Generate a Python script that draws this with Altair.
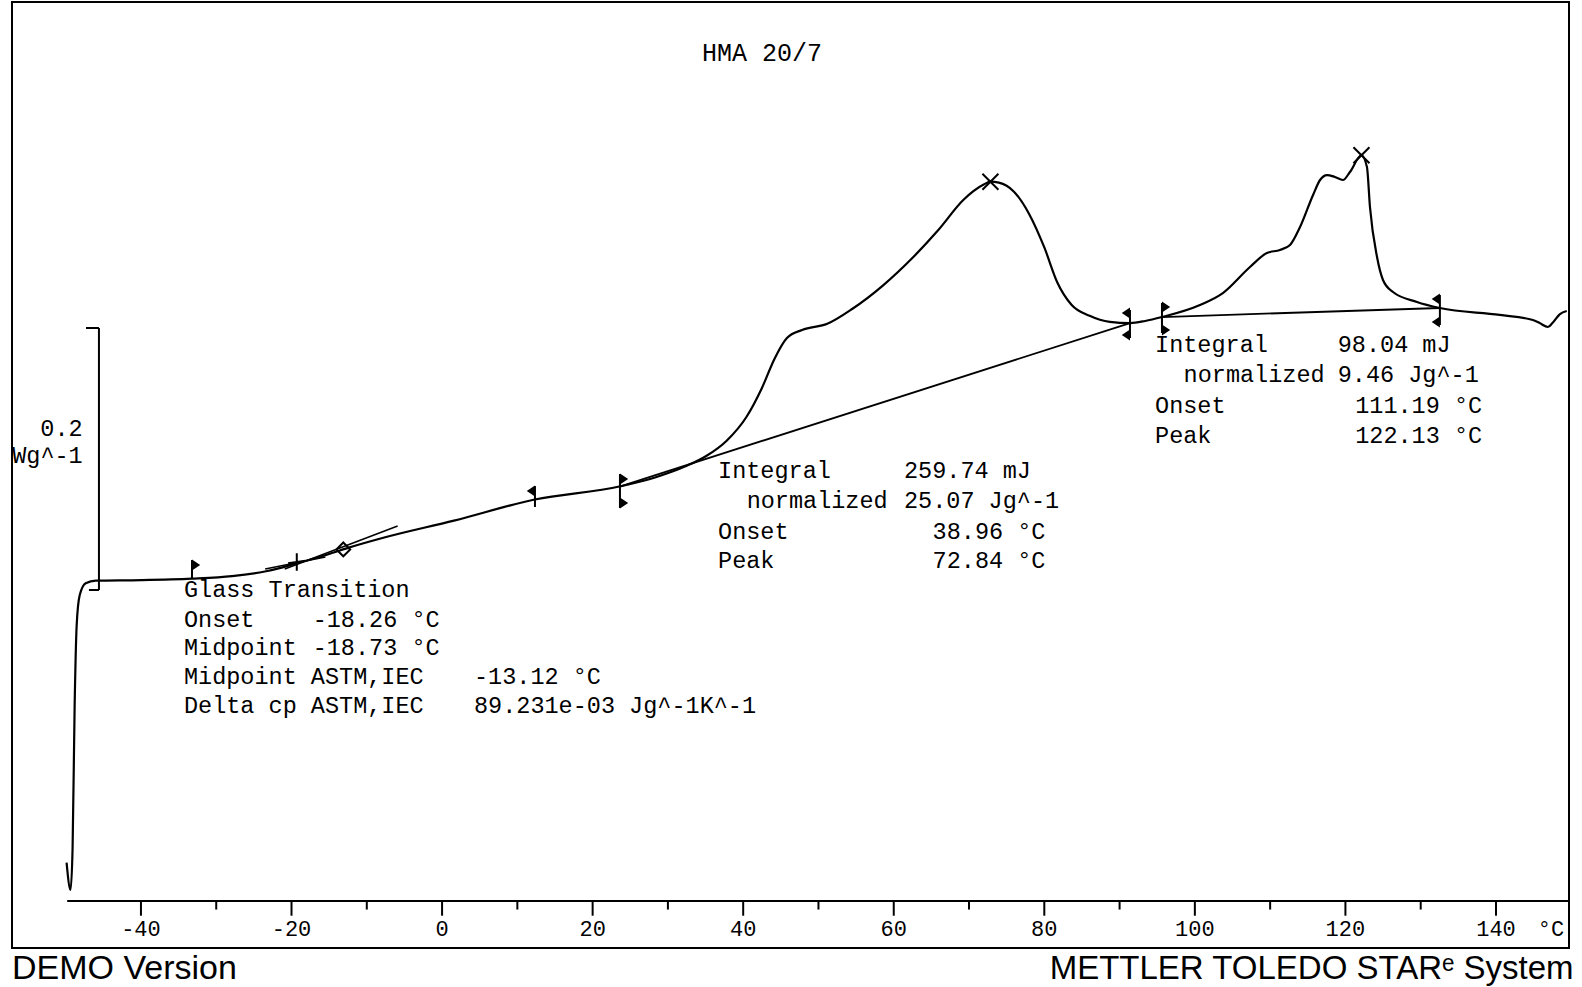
import altair as alt
import pandas as pd

# ---------------- data (temperature in °C, heat flow in W/g relative to the plateau) -------------
curve_T = [-49.88, -49.35, -49.08, -48.81, -48.54, -48.14, -47.34, -46.00, -39.97, -33.26,
           -27.90, -23.21, -19.19, -15.84, -12.49, -7.80, 1.58, 12.31, 23.70, 28.39,
           32.41, 35.09, 37.77, 40.45, 42.46, 44.20, 45.81, 47.82, 51.17, 54.52,
           58.55, 62.57, 65.92, 69.27, 71.95, 72.84, 73.96, 75.97, 77.98, 79.99,
           81.73, 83.61, 86.02, 88.70, 91.38, 93.40, 95.63, 100.68, 103.72, 107.32,
           109.57, 111.30, 112.64, 113.97, 115.70, 116.63, 117.56, 118.60, 119.67, 120.60,
           122.13, 122.86, 123.26, 124.20, 124.99, 126.32, 129.50, 132.55, 140.50, 144.90,
           145.80, 146.90, 147.50, 148.50, 149.40]
curve_W = [-0.2150, -0.2358, -0.2035, -0.0957, -0.0340, -0.0109, -0.0017, 0.0003, 0.0007, 0.0018,
           0.0037, 0.0076, 0.0137, 0.0191, 0.0253, 0.0330, 0.0461, 0.0622, 0.0723, 0.0792,
           0.0877, 0.0954, 0.1069, 0.1254, 0.1470, 0.1701, 0.1855, 0.1916, 0.1963, 0.2078,
           0.2255, 0.2471, 0.2679, 0.2910, 0.3026, 0.3048, 0.3041, 0.2972, 0.2802, 0.2548,
           0.2279, 0.2109, 0.2024, 0.1978, 0.1969, 0.1985, 0.2015, 0.2107, 0.2198, 0.2397,
           0.2504, 0.2527, 0.2565, 0.2702, 0.2947, 0.3061, 0.3099, 0.3084, 0.3061, 0.3122,
           0.3250, 0.3160, 0.2855, 0.2473, 0.2298, 0.2206, 0.2130, 0.2084, 0.2031, 0.1992,
           0.1969, 0.1939, 0.1969, 0.2038, 0.2061]

# integration baselines: (T1, W1, T2, W2)
baseline_T1 = [23.70, 95.63]
baseline_W1 = [0.0723, 0.2015]
baseline_T2 = [91.38, 132.55]
baseline_W2 = [0.1969, 0.2084]

# glass transition tangents
tangent_T1 = [-23.5, -20.9]
tangent_W1 = [0.0092, 0.0092]
tangent_T2 = [-15.5, -5.9]
tangent_W2 = [0.0183, 0.0420]

# evaluation limit flags
flag_T = [-33.22, 12.34, 23.63, 91.38, 95.63, 132.55]
flag_W_low = [0.0023, 0.0565, 0.0557, 0.1855, 0.1893, 0.1954]
flag_W_high = [0.0160, 0.0725, 0.0817, 0.2069, 0.2122, 0.2183]
tri_T = [-33.22, 12.34, 23.63, 23.63, 91.38, 91.38, 95.63, 95.63, 132.55, 132.55]
tri_W = [0.0122, 0.0687, 0.0779, 0.0595, 0.2046, 0.1878, 0.2092, 0.1916, 0.2153, 0.1977]
tri_dir = ["right", "left", "right", "right", "left", "left", "right", "right", "left", "left"]

# result markers
peak_T = [72.84, 122.13]
peak_W = [0.3048, 0.3250]
onset_T = [-19.3]
onset_W = [0.0145]
mid_T = [-13.12]
mid_W = [0.0241]

# scale bar 0.2 W/g
bar_T = -45.58
bar_W = [-0.00687, 0.19313]

# temperature axis
tick_vals = [-40, -30, -20, -10, 0, 10, 20, 30, 40, 50, 60, 70, 80, 90, 100, 110, 120, 130, 140]
tick_labels = ["-40", "-20", "0", "20", "40", "60", "80", "100", "120", "140"]
axis_W = -0.2443

# annotation texts
gt_labels = ["Glass Transition", "Onset", "Midpoint", "Midpoint ASTM,IEC", "Delta cp ASTM,IEC"]
gt_values = ["-18.26 °C", "-18.73 °C", "-13.12 °C", "89.231e-03 Jg^-1K^-1"]
p1_labels = ["Integral", "normalized", "Onset", "Peak"]
p1_values = ["259.74 mJ", "25.07 Jg^-1", "38.96 °C", "72.84 °C"]
p2_labels = ["Integral", "normalized", "Onset", "Peak"]
p2_values = ["98.04 mJ", "9.46 Jg^-1", "111.19 °C", "122.13 °C"]

# ---------------- scales -------------
XS = alt.Scale(domain=[-57.13, 149.70], nice=False, zero=False)
YS = alt.Scale(domain=[-0.28015, 0.44198], nice=False, zero=False)


def ex(f):
    return alt.X(f, type="quantitative", scale=XS, axis=None)


def ey(f):
    return alt.Y(f, type="quantitative", scale=YS, axis=None)


MONO = "Liberation Mono"
SANS = "Liberation Sans"

layers = []

# curve
curve_df = pd.DataFrame({"T": curve_T, "W": curve_W, "i": range(len(curve_T))})
layers.append(
    alt.Chart(curve_df).mark_line(color="black", strokeWidth=2.2, interpolate="monotone")
    .encode(x=ex("T"), y=ey("W"), order="i:Q")
)


def segs(t1, w1, t2, w2, sw):
    df = pd.DataFrame({"t1": t1, "w1": w1, "t2": t2, "w2": w2})
    return alt.Chart(df).mark_rule(color="black", strokeWidth=sw).encode(
        x=ex("t1"), y=ey("w1"), x2=alt.X2("t2"), y2=alt.Y2("w2"))


layers.append(segs(baseline_T1, baseline_W1, baseline_T2, baseline_W2, 1.8))
layers.append(segs(tangent_T1, tangent_W1, tangent_T2, tangent_W2, 1.6))
layers.append(segs(flag_T, flag_W_low, flag_T, flag_W_high, 2))
# scale bar bracket
layers.append(segs([bar_T, -47.30, -46.91], [bar_W[0], bar_W[1], bar_W[0]],
                   [bar_T, bar_T, bar_T], [bar_W[1], bar_W[1], bar_W[0]], 2))
# axis line
layers.append(segs([-49.8], [axis_W], [149.7], [axis_W], 2))
major = [t for t in tick_vals if t % 20 == 0]
minor = [t for t in tick_vals if t % 20 != 0]
layers.append(segs(major, [axis_W] * len(major), major, [-0.2555] * len(major), 2))
layers.append(segs(minor, [axis_W] * len(minor), minor, [-0.2508] * len(minor), 2))

# flag triangles
tri_df = pd.DataFrame({"T": tri_T, "W": tri_W,
                       "shape": ["M0,-1L1.5,0L0,1Z" if d == "right" else "M0,-1L-1.5,0L0,1Z" for d in tri_dir]})
layers.append(
    alt.Chart(tri_df).mark_point(filled=True, color="black", opacity=1, size=120)
    .encode(x=ex("T"), y=ey("W"), shape=alt.Shape("shape:N", scale=None))
)
# peak X markers
layers.append(
    alt.Chart(pd.DataFrame({"T": peak_T, "W": peak_W}))
    .mark_point(shape="M-1,-1L1,1M-1,1L1,-1", filled=False, color="black", opacity=1, size=256, strokeWidth=2)
    .encode(x=ex("T"), y=ey("W"))
)
layers.append(
    alt.Chart(pd.DataFrame({"T": onset_T, "W": onset_W}))
    .mark_point(shape="M-1,0.15L1,-0.15M0,-1L0,1", filled=False, color="black", opacity=1, size=300, strokeWidth=2)
    .encode(x=ex("T"), y=ey("W"))
)
layers.append(
    alt.Chart(pd.DataFrame({"T": mid_T, "W": mid_W}))
    .mark_point(shape="diamond", filled=False, color="black", opacity=1, size=190, strokeWidth=2)
    .encode(x=ex("T"), y=ey("W"))
)


def texts(t, w, s, size=23.5, font=MONO, align="left"):
    df = pd.DataFrame({"T": t, "W": w, "s": s})
    return alt.Chart(df).mark_text(font=font, fontSize=size, align=align, baseline="middle",
                                   color="black").encode(x=ex("T"), y=ey("W"), text="s:N")


gt_rows = [-0.00687, -0.02977, -0.05115, -0.07328, -0.09542]
layers.append(texts([-34.29] * 5, gt_rows, gt_labels))
layers.append(texts([-17.19, -17.19, 4.24, 4.24], gt_rows[1:], gt_values))

p1_rows = [0.0840, 0.0607, 0.0376, 0.0153]
layers.append(texts([36.66, 40.46, 36.66, 36.66], p1_rows, p1_labels))
layers.append(texts([61.36, 61.36, 65.16, 65.16], p1_rows, p1_values))

p2_rows = [0.1802, 0.1570, 0.1339, 0.1108]
layers.append(texts([94.71, 98.50, 94.71, 94.71], p2_rows, p2_labels))
layers.append(texts([118.98, 118.98, 121.30, 121.30], p2_rows, p2_values))

# scale bar label
layers.append(texts([-47.74, -47.74], [0.1160, 0.0954], ["0.2", "Wg^-1"], align="right"))

# title
layers.append(texts([42.49], [0.4034], ["HMA 20/7"], size=25, align="center"))

# tick labels
layers.append(texts(major, [-0.2656] * len(major), tick_labels, size=22, align="center"))
layers.append(texts([147.3], [-0.2656], ["°C"], size=22, align="center"))

# footer
layers.append(texts([-57.13], [-0.2965], ["DEMO Version"], size=34, font=SANS, align="left"))
layers.append(texts([150.3], [-0.2965], ["METTLER TOLEDO STARᵉ System"], size=33, font=SANS, align="right"))

chart = alt.layer(*layers).properties(
    width=1557, height=946,
    autosize=alt.AutoSizeParams(type="none"),
    padding={"left": 12, "top": 2, "right": 13, "bottom": 39},
    background="white",
).configure_view(stroke="black", strokeWidth=2)

chart.save("out.html", embed_options={"renderer": "svg", "actions": False})
